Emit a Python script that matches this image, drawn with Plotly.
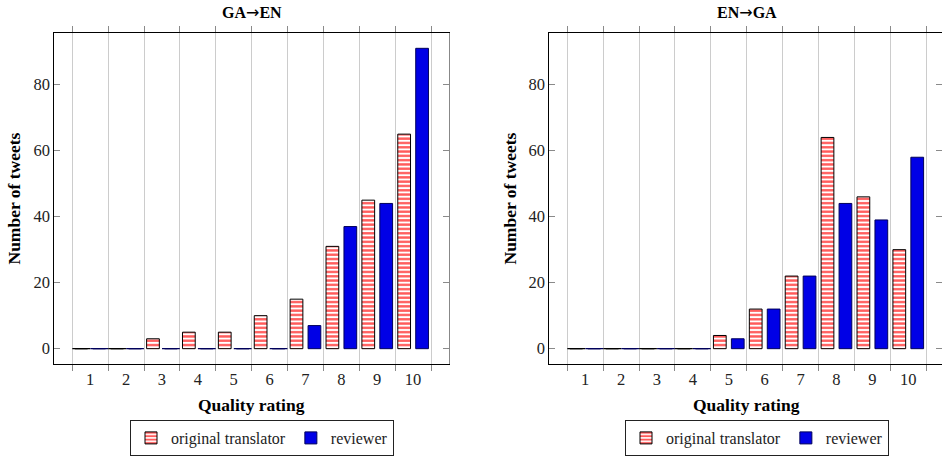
import plotly.graph_objects as go

ratings = [1, 2, 3, 4, 5, 6, 7, 8, 9, 10]
ga_en_original = [0, 0, 3, 5, 5, 10, 15, 31, 45, 65]
ga_en_reviewer = [0, 0, 0, 0, 0, 0, 7, 37, 44, 91]
en_ga_original = [0, 0, 0, 0, 4, 12, 22, 64, 46, 30]
en_ga_reviewer = [0, 0, 0, 0, 3, 12, 22, 44, 39, 58]
y_ticks = [0, 20, 40, 60, 80]
panel_titles = [("GA", "EN"), ("EN", "GA")]
series_names = ["original translator", "reviewer"]

W, H = 942, 456
FONT = "Liberation Serif"
RED = "#ff5a5a"
BLUE = "#0000e6"
BLUE_EDGE = "#00005a"
GRID = "#cccccc"
TICKC = "#8a8a8a"

fig = go.Figure()

panels = [
    dict(orig=ga_en_original, rev=ga_en_reviewer, xa="x", ya="y", legend="legend"),
    dict(orig=en_ga_original, rev=en_ga_reviewer, xa="x2", ya="y2", legend="legend2"),
]

for p in panels:
    fig.add_trace(go.Bar(
        x=ratings, y=p["orig"], name=series_names[0], xaxis=p["xa"], yaxis=p["ya"],
        legend=p["legend"], offsetgroup="a",
        marker=dict(color="white", line=dict(color="black", width=1),
                    pattern=dict(shape="-", fgcolor=RED, bgcolor="white", size=4.3,
                                 solidity=0.55, fgopacity=1)),
    ))
    fig.add_trace(go.Bar(
        x=ratings, y=p["rev"], name=series_names[1], xaxis=p["xa"], yaxis=p["ya"],
        legend=p["legend"], offsetgroup="b",
        marker=dict(color=BLUE, line=dict(color=BLUE_EDGE, width=1)),
    ))
    # zero-height bars drawn as flat outlines
    zo = [r - 0.25 for r, v in zip(ratings, p["orig"]) if v == 0]
    zr = [r + 0.25 for r, v in zip(ratings, p["rev"]) if v == 0]
    fig.add_trace(go.Scatter(
        x=zo, y=[0] * len(zo), mode="markers", xaxis=p["xa"], yaxis=p["ya"], showlegend=False,
        hoverinfo="skip",
        marker=dict(symbol="line-ew", size=12.7, line=dict(color="black", width=1.2)),
    ))
    fig.add_trace(go.Scatter(
        x=zr, y=[0] * len(zr), mode="markers", xaxis=p["xa"], yaxis=p["ya"], showlegend=False,
        hoverinfo="skip",
        marker=dict(symbol="line-ew", size=12.7, line=dict(color=BLUE_EDGE, width=1.2)),
    ))

yr = [-4.55, 95.55]
ydom = [1 - 363.7 / H, 1 - 33.3 / H]
boundaries = [r - 0.5 for r in ratings] + [ratings[-1] + 0.5]

def xaxis_cfg(dom, rng):
    return dict(
        domain=dom, range=rng, tickvals=ratings, ticktext=[str(r) for r in ratings],
        ticks="", showgrid=False, zeroline=False, showline=True, linecolor="black",
        linewidth=1.2, mirror="ticks", automargin=False,
        tickfont=dict(family=FONT, size=16.5, color="#222"),
        minor=dict(tickvals=boundaries, ticks="outside", ticklen=6, tickcolor=TICKC,
                   showgrid=True, gridcolor=GRID, gridwidth=1),
    )

def yaxis_cfg(anchor):
    return dict(
        domain=ydom, range=yr, anchor=anchor, tickvals=y_ticks, ticks="inside",
        ticklen=6, tickcolor=TICKC, showgrid=False, zeroline=False, showline=True,
        linecolor="black", linewidth=1.2, automargin=False,
        tickfont=dict(family=FONT, size=16.5, color="#222"),
    )

legend_common = dict(orientation="h", y=0, xanchor="left", yanchor="bottom",
                     bordercolor="#222", borderwidth=1, itemwidth=30,
                     font=dict(family=FONT, size=16, color="#222"), tracegroupgap=0)

fig.update_layout(
    width=W, height=H, margin=dict(l=0, r=0, t=0, b=0),
    font=dict(family=FONT, color="#222"),
    paper_bgcolor="white", plot_bgcolor="white",
    barmode="group", bargap=0.0, bargroupgap=0.29,
    xaxis=xaxis_cfg([54.3 / W, 449 / W], [0, 11]),
    yaxis=yaxis_cfg("x"),
    xaxis2=xaxis_cfg([549.3 / W, 1.0], [0, 10.94]),
    yaxis2=yaxis_cfg("x2"),
    yaxis3=dict(overlaying="y", side="right", anchor="x", range=yr, tickvals=y_ticks,
                ticks="inside", ticklen=6, tickcolor=TICKC, showticklabels=False, automargin=False,
                showgrid=False, zeroline=False, showline=True, linecolor="#888888", linewidth=1.2),
    yaxis4=dict(overlaying="y2", side="right", anchor="x2", range=yr, tickvals=y_ticks,
                ticks="inside", ticklen=6, tickcolor=TICKC, showticklabels=False, automargin=False,
                showgrid=False, zeroline=False, showline=False),
    legend=dict(x=130 / W, **legend_common),
    legend2=dict(x=625 / W, **legend_common),
    showlegend=True,
)

# dummy traces so overlay axes render
fig.add_trace(go.Scatter(x=[None], y=[None], xaxis="x", yaxis="y3", showlegend=False, hoverinfo="skip"))
fig.add_trace(go.Scatter(x=[None], y=[None], xaxis="x2", yaxis="y4", showlegend=False, hoverinfo="skip"))

centers = [(54.3 + 449) / 2 / W, (549.3 + 944) / 2 / W]
for i, (a, b) in enumerate(panel_titles):
    txt = "<b>%s</b><span style=\"font-family:'DejaVu Sans'\">→</span><b>%s</b>" % (a, b)
    fig.add_annotation(text=txt, x=centers[i], y=1 - 12.5 / H, xref="paper", yref="paper",
                       xanchor="center", yanchor="middle",
                       showarrow=False, font=dict(family=FONT, size=16, color="black"))
    fig.add_annotation(text="<b>Quality rating</b>", x=centers[i], y=1 - 404.7 / H, xref="paper",
                       yref="paper", xanchor="center", yanchor="middle",
                       showarrow=False, font=dict(family=FONT, size=17.5, color="black"))
ylab_x = [14 / W, 510 / W]
for xx in ylab_x:
    fig.add_annotation(text="<b>Number of tweets</b>", x=xx, y=(ydom[0] + ydom[1]) / 2, xref="paper",
                       yref="paper", xanchor="center", yanchor="middle",
                       showarrow=False, textangle=-90,
                       font=dict(family=FONT, size=17.5, color="black"))

fig.write_html("out.html", config={"displayModeBar": False},
               post_script="document.body.style.margin='0';document.body.style.overflow='hidden';")
